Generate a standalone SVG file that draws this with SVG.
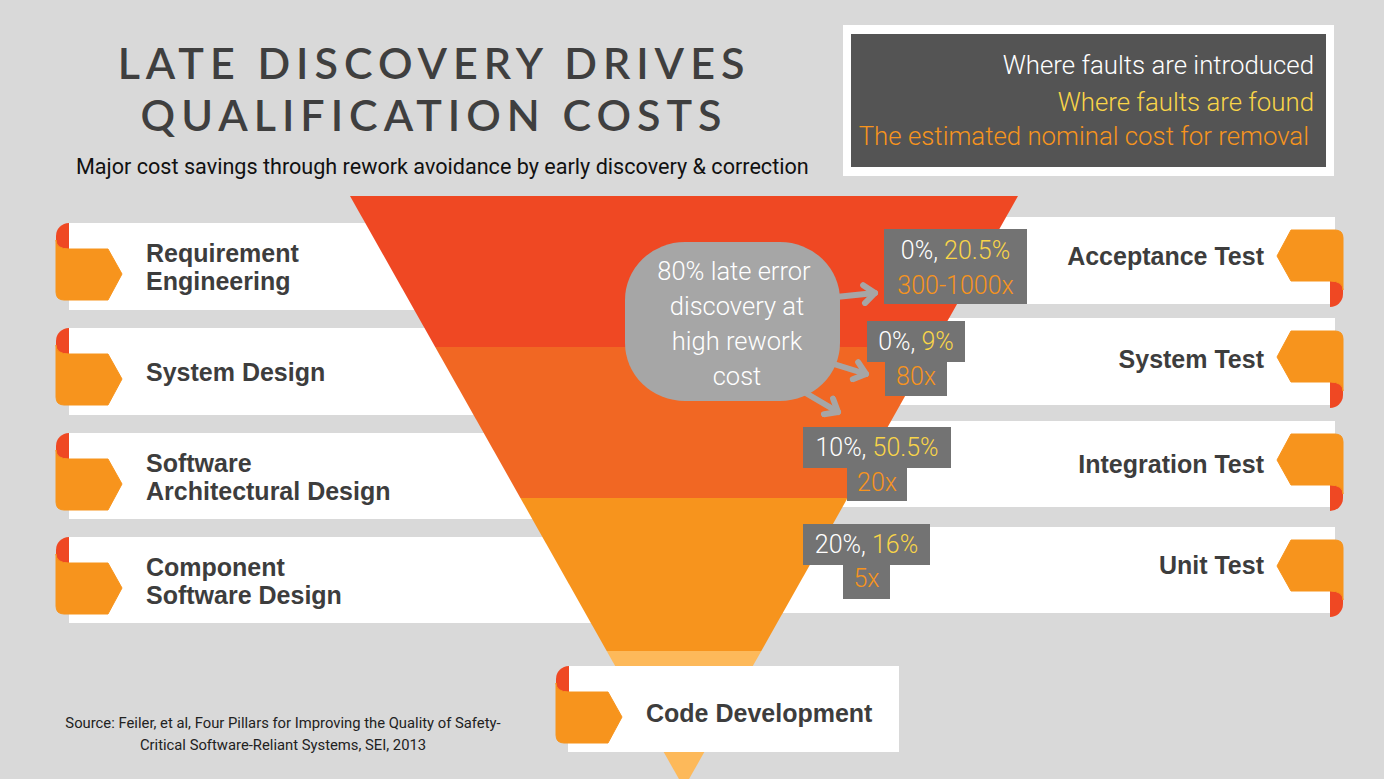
<svg xmlns="http://www.w3.org/2000/svg" width="1384" height="779" viewBox="0 0 1384 779">
<defs>
<style>
.bar{fill:#ffffff}
.lbl{font-family:"Liberation Sans",Arial,sans-serif;font-weight:700;font-size:25px;fill:#3d3d3d}
.rlbl{font-family:"Liberation Sans",Arial,sans-serif;font-weight:700;font-size:25px;fill:#3d3d3d;text-anchor:end}
.stat{font-family:Roboto,"Liberation Sans",sans-serif;font-weight:300;font-size:25px;text-anchor:middle}
.box{fill:#737373}
.w{fill:#ffffff}.y{fill:#f9d548}.o{fill:#f7941d}
.leg{font-family:Roboto,"Liberation Sans",sans-serif;font-weight:300;font-size:25.8px;text-anchor:end}
.title{font-family:Lato,"Liberation Sans",sans-serif;font-weight:600;font-size:43px;fill:#3f3f3f;letter-spacing:6px;text-anchor:middle}
.sub{font-family:Roboto,"Liberation Sans",sans-serif;font-size:21.6px;fill:#111111}
.src{font-family:Roboto,"Liberation Sans",sans-serif;font-size:14.8px;fill:#222222;text-anchor:middle}
.bub{font-family:Roboto,"Liberation Sans",sans-serif;font-weight:300;font-size:25.5px;fill:#ffffff;text-anchor:middle}
.arr{fill:none;stroke:#a6a6a6;stroke-width:6;stroke-linecap:round;marker-end:url(#ah)}
</style>
<marker id="ah" markerUnits="userSpaceOnUse" viewBox="0 0 24 24" markerWidth="24" markerHeight="24" refX="19" refY="12" orient="auto">
<path d="M8,3 L19,12 L8,21" fill="none" stroke="#a6a6a6" stroke-width="6" stroke-linecap="round" stroke-linejoin="round"/>
</marker>
<g id="tab">
<path d="M13,0 L13,26 L0,26 L0,13 A13,13 0 0 1 13,0 Z" fill="#ef4823"/>
<path d="M0,17 Q0,26 13,26 L52,26 L66,51 L52,77 L8,77 Q0,77 0,69 Z" fill="#f7941d" stroke="#f7941d" stroke-width="1" stroke-linejoin="round"/>
</g>
</defs>
<rect x="0" y="0" width="1384" height="779" fill="#d9d9d9"/>

<g id="title">
<text class="title" x="434" y="79">LATE DISCOVERY DRIVES</text>
<text class="title" x="434" y="131">QUALIFICATION COSTS</text>
<text class="sub" x="76" y="174">Major cost savings through rework avoidance by early discovery &amp; correction</text>
</g>

<g id="legend">
<rect x="843" y="25" width="491" height="151" fill="#ffffff"/>
<rect x="851" y="34" width="475" height="133" fill="#545454"/>
<text class="leg w" x="1314" y="74">Where faults are introduced</text>
<text class="leg y" x="1314" y="111">Where faults are found</text>
<text class="leg o" x="1309" y="145">The estimated nominal cost for removal</text>
</g>

<g id="left-bars">
<rect class="bar" x="69" y="223" width="591" height="87"/>
<rect class="bar" x="69" y="328" width="591" height="87"/>
<rect class="bar" x="69" y="433" width="591" height="86"/>
<rect class="bar" x="69" y="537" width="591" height="86"/>
</g>
<g id="right-bars">
<rect class="bar" x="700" y="217" width="635" height="87"/>
<rect class="bar" x="700" y="318" width="635" height="87"/>
<rect class="bar" x="700" y="421" width="635" height="86"/>
<rect class="bar" x="700" y="527" width="635" height="86"/>
</g>

<g id="funnel">
<polygon points="350,196 1018,196 932.8,347 435.2,347" fill="#ef4823"/>
<polygon points="435.2,347 932.8,347 847.6,498 520.4,498" fill="#f16723"/>
<polygon points="520.4,498 847.6,498 761.3,651 606.7,651" fill="#f7941d"/>
<polygon points="606.7,651 761.3,651 684,788" fill="#fdb95a"/>
</g>

<g id="node-requirement-engineering">
<use href="#tab" x="56" y="223"/>
<text class="lbl" x="146" y="262">Requirement</text>
<text class="lbl" x="146" y="290">Engineering</text>
</g>
<g id="node-system-design">
<use href="#tab" x="56" y="328"/>
<text class="lbl" x="146" y="381">System Design</text>
</g>
<g id="node-software-architectural-design">
<use href="#tab" x="56" y="433"/>
<text class="lbl" x="146" y="472">Software</text>
<text class="lbl" x="146" y="500">Architectural Design</text>
</g>
<g id="node-component-software-design">
<use href="#tab" x="56" y="537"/>
<text class="lbl" x="146" y="576">Component</text>
<text class="lbl" x="146" y="604">Software Design</text>
</g>

<g id="node-acceptance-test">
<use href="#tab" transform="translate(1343,307) rotate(180)"/>
<text class="rlbl" x="1264" y="265">Acceptance Test</text>
</g>
<g id="node-system-test">
<use href="#tab" transform="translate(1343,408) rotate(180)"/>
<text class="rlbl" x="1264" y="368">System Test</text>
</g>
<g id="node-integration-test">
<use href="#tab" transform="translate(1343,511) rotate(180)"/>
<text class="rlbl" x="1264" y="473">Integration Test</text>
</g>
<g id="node-unit-test">
<use href="#tab" transform="translate(1343,617) rotate(180)"/>
<text class="rlbl" x="1264" y="574">Unit Test</text>
</g>

<g id="node-code-development">
<rect class="bar" x="568" y="666" width="331" height="86"/>
<use href="#tab" x="556" y="666"/>
<text class="lbl" x="646" y="722">Code Development</text>
</g>

<g id="stat-acceptance">
<rect class="box" x="884" y="229" width="143" height="75"/>
<text class="stat" x="955.5" y="259"><tspan class="w">0%, </tspan><tspan class="y">20.5%</tspan></text>
<text class="stat o" x="955.5" y="294">300-1000x</text>
</g>
<g id="stat-system">
<rect class="box" x="867" y="321" width="98" height="41"/>
<rect class="box" x="885" y="361" width="62" height="35"/>
<text class="stat" x="916" y="350"><tspan class="w">0%, </tspan><tspan class="y">9%</tspan></text>
<text class="stat o" x="916" y="385">80x</text>
</g>
<g id="stat-integration">
<rect class="box" x="803" y="427" width="148" height="41"/>
<rect class="box" x="847" y="467" width="60" height="34"/>
<text class="stat" x="877" y="456"><tspan class="w">10%, </tspan><tspan class="y">50.5%</tspan></text>
<text class="stat o" x="877" y="491">20x</text>
</g>
<g id="stat-unit">
<rect class="box" x="803" y="524" width="127" height="41"/>
<rect class="box" x="843" y="564" width="47" height="35"/>
<text class="stat" x="866.5" y="553"><tspan class="w">20%, </tspan><tspan class="y">16%</tspan></text>
<text class="stat o" x="866.5" y="587">5x</text>
</g>

<g id="connectors">
<path class="arr" d="M836,297 L875,293"/>
<path class="arr" d="M824,361 L866,374"/>
<path class="arr" d="M804,392 L838,412"/>
</g>

<g id="node-bubble">
<rect x="625" y="242" width="215" height="159" rx="60" ry="58" fill="#a6a6a6"/>
<text class="bub" x="734" y="280">80% late error</text>
<text class="bub" x="737" y="315">discovery at</text>
<text class="bub" x="737" y="350">high rework</text>
<text class="bub" x="737" y="385">cost</text>
</g>

<g id="source">
<text class="src" x="283" y="728">Source: Feiler, et al, Four Pillars for Improving the Quality of Safety-</text>
<text class="src" x="283" y="750">Critical Software-Reliant Systems, SEI, 2013</text>
</g>
</svg>
